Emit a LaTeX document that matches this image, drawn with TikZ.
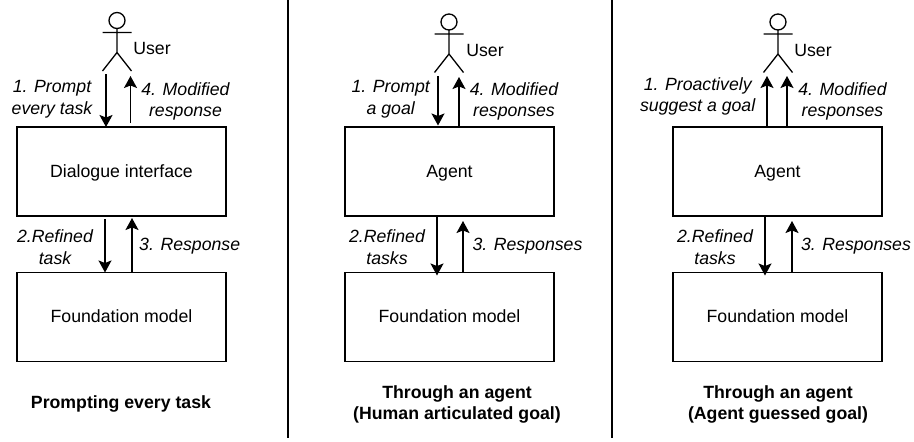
\documentclass[tikz,border=0pt]{standalone}
\usepackage{fontspec}
\setmainfont{Liberation Sans}
\usetikzlibrary{arrows.meta}
\usetikzlibrary{positioning}

\begin{document}
\begin{tikzpicture}[x=1pt, y=-1pt, node distance=56.5pt]

\tikzstyle{box}=[rectangle, draw=black, line width=1.3pt, minimum width=209pt,
  minimum height=89pt, inner sep=0pt, outer sep=0pt, text height=13pt,
  text depth=2pt, font=\fontsize{17.7}{21.6}\selectfont]
\tikzstyle{stepnote}=[align=center, inner sep=0pt,
  font=\fontsize{17.7}{21.6}\selectfont\itshape]
\tikzstyle{person}=[inner sep=0pt, font=\fontsize{17.7}{21.6}\selectfont]
\tikzstyle{heading}=[align=center, inner sep=0pt,
  font=\fontsize{17.7}{21.8}\selectfont\bfseries]
\tikzstyle{arrflow}=[-{Stealth[length=12pt, width=13pt, inset=2.5pt]},
  line width=1.3pt, draw=black]
\tikzstyle{divider}=[line width=2.6pt, draw=black]
\tikzset{useractor/.pic={
  \draw[line width=1.3pt] (0,-12) circle (8);
  \draw[line width=1.3pt] (0,-4) -- (0,20) (-14.5,0) -- (14.5,0)
    (-14.5,38.5) -- (0,20) -- (14.5,38.5);
}}

\useasboundingbox (0,0) rectangle (914,442);

% first panel
\pic at (117,32.5) {useractor};
\node[person] (userA) at (152,48) {User};
\node[box] (dialogue) at (121.5,171.5) {Dialogue interface};
\node[box, below=of dialogue] (modelA) {Foundation model};
\coordinate (promptA) at (106,74);
\coordinate (modifiedA) at (130.5,76);
\coordinate (refinedA) at (105,219);
\coordinate (responseA) at (132,218);
\draw[arrflow] (promptA) -- (promptA |- dialogue.north);
\draw[arrflow] (modifiedA |- 0,123) -- (modifiedA);
\draw[arrflow] (refinedA) -- (refinedA |- modelA.north);
\draw[arrflow] (responseA |- modelA.north) -- (responseA);
\node[stepnote] (noteA1) at (52,99) {1. Prompt\\every task};
\node[stepnote] (noteA4) at (185.5,101.5) {4. Modified\\response};
\node[stepnote] (noteA2) at (55,247) {2.Refined\\task};
\node[stepnote] (noteA3) at (189.7,246.5) {3. Response};
\node[heading] (titleA) at (121,403.5) {Prompting every task};

\coordinate (divtopA) at (288,0);
\coordinate (divendA) at (288,438);
\draw[divider] (divtopA) -- (divendA);

% second panel
\pic at (449,34) {useractor};
\node[person] (userB) at (485,50) {User};
\node[box] (agentB) at (449.5,171.5) {Agent};
\node[box, below=of agentB] (modelB) {Foundation model};
\coordinate (promptB) at (438,76);
\coordinate (modifiedB) at (459,77);
\coordinate (refinedB) at (437,275.5);
\coordinate (responseB) at (463,221);
\draw[arrflow] (promptB) -- (promptB |- 0,125.5);
\draw[arrflow] (modifiedB |- agentB.north) -- (modifiedB);
\draw[arrflow] (refinedB |- agentB.south) -- (refinedB);
\draw[arrflow] (responseB |- modelB.north) -- (responseB);
\node[stepnote] (noteB1) at (390.7,99.5) {1. Prompt\\a goal};
\node[stepnote] (noteB4) at (514,101.5) {4. Modified\\responses};
\node[stepnote] (noteB2) at (387,247) {2.Refined\\tasks};
\node[stepnote] (noteB3) at (527.5,246.5) {3. Responses};
\node[heading] (titleB) at (457,404.5) {Through an agent\\(Human articulated goal)};

\coordinate (divtopB) at (612,0);
\coordinate (divendB) at (612,438);
\draw[divider] (divtopB) -- (divendB);

% third panel
\pic at (778,34) {useractor};
\node[person] (userC) at (813,50) {User};
\node[box] (agentC) at (777.5,171.5) {Agent};
\node[box, below=of agentC] (modelC) {Foundation model};
\coordinate (promptC) at (767,76);
\coordinate (modifiedC) at (787,76);
\coordinate (refinedC) at (765,275.5);
\coordinate (responseC) at (792,221);
\draw[arrflow] (promptC |- agentC.north) -- (promptC);
\draw[arrflow] (modifiedC |- agentC.north) -- (modifiedC);
\draw[arrflow] (refinedC |- agentC.south) -- (refinedC);
\draw[arrflow] (responseC |- modelC.north) -- (responseC);
\node[stepnote] (noteC1) at (697.7,96.5) {1. Proactively\\suggest a goal};
\node[stepnote] (noteC4) at (842.5,101.5) {4. Modified\\responses};
\node[stepnote] (noteC2) at (715,247) {2.Refined\\tasks};
\node[stepnote] (noteC3) at (856,246.5) {3. Responses};
\node[heading] (titleC) at (778,404.5) {Through an agent\\(Agent guessed goal)};

\end{tikzpicture}
\end{document}
